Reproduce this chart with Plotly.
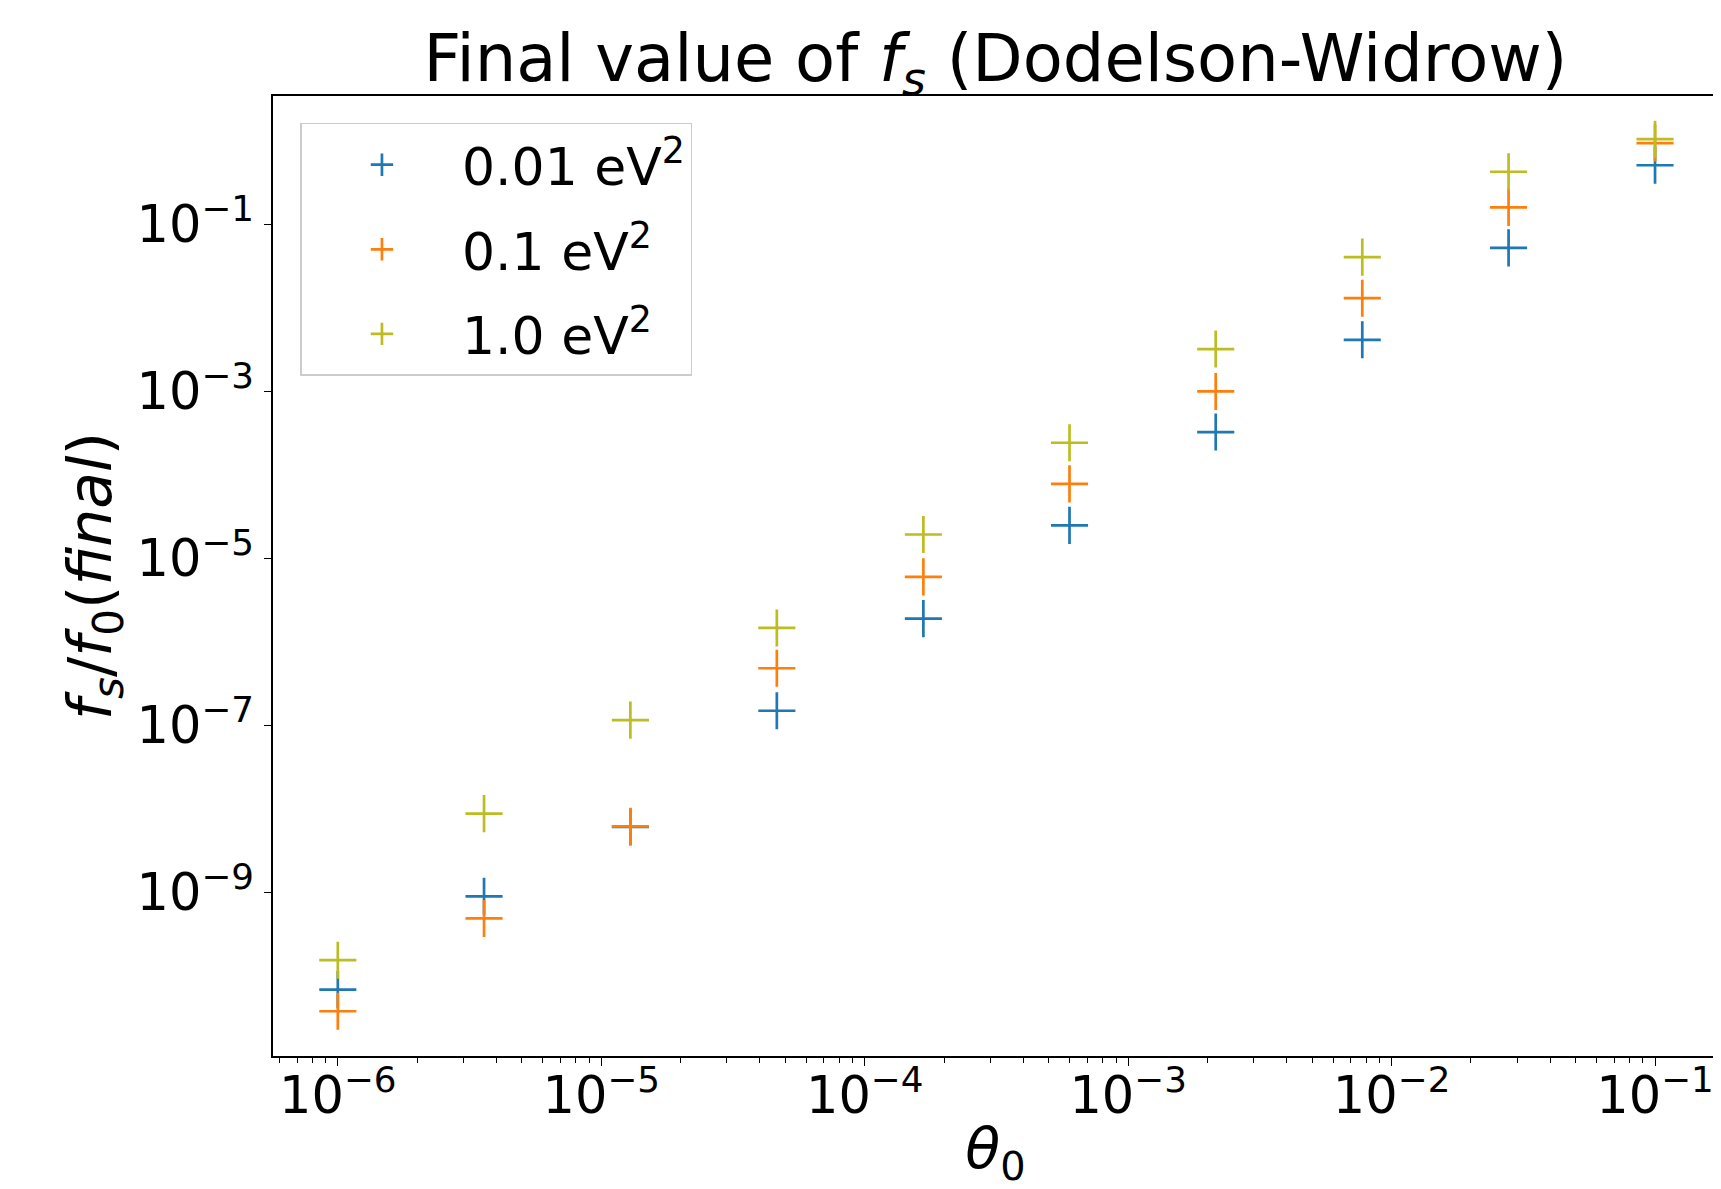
import plotly.graph_objects as go

theta0 = [1e-6, 3.59e-6, 1.29e-5, 4.64e-5, 1.67e-4, 5.99e-4, 2.15e-3, 7.74e-3, 2.78e-2, 1e-1]
fs_001 = [6.9e-11, 9.0e-10, 6.1e-9, 1.5e-7, 1.9e-6, 2.48e-5, 3.25e-4, 4.13e-3, 5.2e-2, 0.507]
fs_01 = [3.8e-11, 4.9e-10, 6.2e-9, 4.84e-7, 6.0e-6, 7.8e-5, 9.95e-4, 1.30e-2, 0.159, 0.935]
fs_1 = [1.55e-10, 8.8e-9, 1.16e-7, 1.47e-6, 1.93e-5, 2.42e-4, 3.2e-3, 4.03e-2, 0.424, 1.04]

series_names = ["0.01 eV<sup>2</sup>", "0.1 eV<sup>2</sup>", "1.0 eV<sup>2</sup>"]
series_values = [fs_001, fs_01, fs_1]
series_colors = ["#1f77b4", "#ff7f0e", "#bcbd22"]

x_tickvals = [1e-6, 1e-5, 1e-4, 1e-3, 1e-2, 1e-1]
x_ticktext = ["10<sup>\u22126</sup>", "10<sup>\u22125</sup>", "10<sup>\u22124</sup>",
              "10<sup>\u22123</sup>", "10<sup>\u22122</sup>", "10<sup>\u22121</sup>"]
y_tickvals = [1e-1, 1e-3, 1e-5, 1e-7, 1e-9]
y_ticktext = ["10<sup>\u22121</sup>", "10<sup>\u22123</sup>", "10<sup>\u22125</sup>",
              "10<sup>\u22127</sup>", "10<sup>\u22129</sup>"]

FONT = "DejaVu Sans"
W, H = 1713, 1181  # page body has an 8px margin

fig = go.Figure()
for i, (name, vals, col) in enumerate(zip(series_names, series_values, series_colors)):
    fig.add_trace(go.Scatter(
        x=theta0, y=vals, mode="markers", name=name, legendgroup=f"g{i}",
        marker=dict(symbol="cross-thin", size=26.5, color=col,
                    line=dict(color=col, width=2.7)),
    ))

fig.update_layout(
    width=W, height=H,
    margin=dict(l=265, r=3, t=88, b=133),
    paper_bgcolor="white", plot_bgcolor="white",
    font=dict(family=FONT, color="black", size=50),
    title=dict(text="Final value of <i>f</i><sub><i>s</i></sub> (Dodelson-Widrow)",
               x=(265 + (W - 3)) / 2 / W, xanchor="center",
               y=1 - 50 / H, yanchor="middle", yref="container",
               font=dict(family=FONT, size=65.5, color="black")),
    showlegend=True,
    legend=dict(x=0.019, y=0.972, xanchor="left", yanchor="top",
                bgcolor="rgba(255,255,255,0.8)", bordercolor="#cccccc", borderwidth=1.5,
                font=dict(family=FONT, size=52, color="black"),
                traceorder="grouped", tracegroupgap=14, itemwidth=150),
)

fig.update_xaxes(
    type="log", range=[-6.246, -0.761],
    showline=True, linecolor="black", linewidth=1.5, mirror=True,
    showgrid=False, zeroline=False,
    ticks="outside", ticklen=8, tickwidth=1.2, tickcolor="black",
    tickvals=x_tickvals, ticktext=x_ticktext,
    tickfont=dict(family=FONT, size=51, color="black"),
    ticklabelstandoff=-14,
    minor=dict(ticks="outside", ticklen=5, tickwidth=1, tickcolor="black", dtick="D1", showgrid=False),
    automargin=False,
    title=dict(text="<i>\u03b8</i><sub>0</sub>", font=dict(family=FONT, size=57, color="black"), standoff=26),
)
fig.update_yaxes(
    type="log", range=[-10.956, 0.534],
    showline=True, linecolor="black", linewidth=1.5, mirror=True,
    showgrid=False, zeroline=False,
    ticks="outside", ticklen=7, tickwidth=1.2, tickcolor="black",
    tickvals=y_tickvals, ticktext=y_ticktext,
    tickfont=dict(family=FONT, size=51, color="black"),
    automargin=False,
    title=dict(text="<i>f</i><sub><i>s</i></sub>/<i>f</i><sub>0</sub>(<i>final</i>)",
               font=dict(family=FONT, size=60, color="black"), standoff=6),
)

fig.write_html("out.html")
